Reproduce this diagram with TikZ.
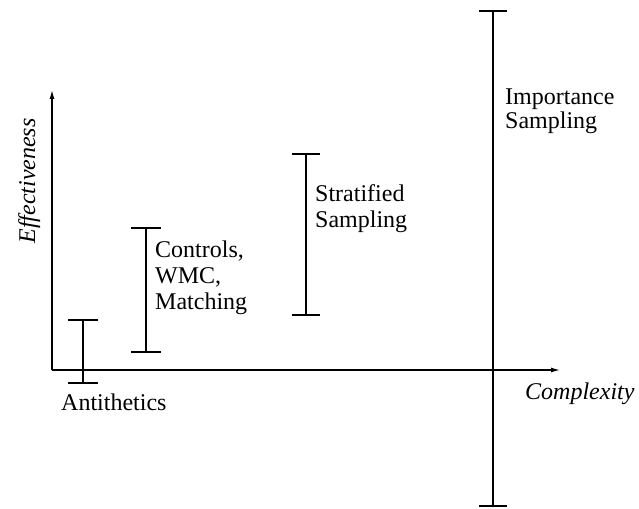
\documentclass[tikz,border=0pt]{standalone}
\usepackage{fontspec}
\setmainfont{Liberation Serif}
\usetikzlibrary{arrows.meta}
\begin{document}
\begin{tikzpicture}[x=1pt,y=-1pt,
  axis/.style={line width=1.2pt,-{Latex[length=9pt,width=5pt]}},
  bar/.style={line width=1.3pt},
  lab/.style={inner sep=0pt,font=\fontsize{24}{26}\selectfont,align=left}]
\useasboundingbox (0,0) rectangle (639,508);
% axes
\coordinate (o) at (52,370);
\coordinate (ytip) at (52,90);
\coordinate (xtip) at (560,370);
\draw[axis] (o) -- (ytip);
\draw[axis] (o) -- (xtip);
\node[lab,font=\fontsize{24}{26}\selectfont\itshape,rotate=90,anchor=base] (ylab) at (35,181) {Effectiveness};
\node[lab,font=\fontsize{24}{26}\selectfont\itshape,anchor=base west] (xlab) at (525,399) {Complexity};
% bars
\foreach \n/\x/\t/\b/\h in {a/83/320/383/15, c/146/228/352/15, s/306/154/315/14, i/493/11/506/14}{
  \coordinate (\n t) at (\x,\t);
  \coordinate (\n b) at (\x,\b);
  \draw[bar] (\n t) -- (\n b);
  \draw[bar] ([xshift=-\h pt]\n t) -- ([xshift=\h pt]\n t);
  \draw[bar] ([xshift=-\h pt]\n b) -- ([xshift=\h pt]\n b);
}
\node[lab,anchor=base west] (anti) at (61,410) {Antithetics};
\node[lab,anchor=north west] (ctrl) at (155,241) {Controls,\\WMC,\\Matching};
\node[lab,anchor=north west] (strat) at (315,184) {Stratified\\Sampling};
\node[lab,anchor=north west,font=\fontsize{24}{24}\selectfont] (imp) at (505,89) {Importance\\Sampling};
\end{tikzpicture}
\end{document}
